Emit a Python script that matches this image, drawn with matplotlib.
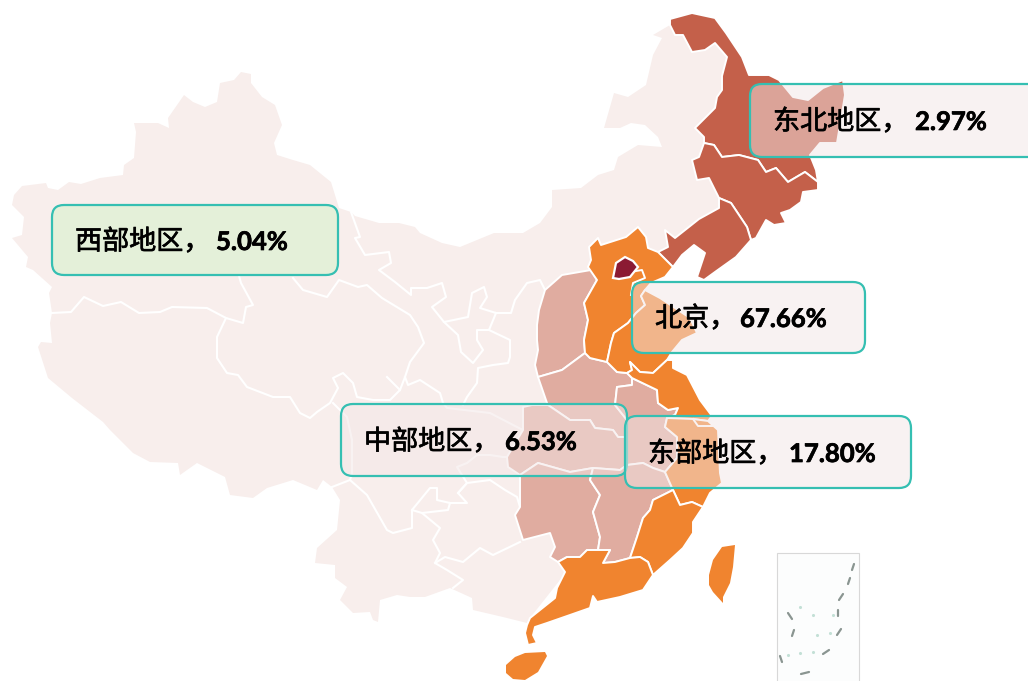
import matplotlib
matplotlib.use("Agg")
import matplotlib.pyplot as plt
import matplotlib.patheffects as pe
from matplotlib.patches import FancyBboxPatch, Polygon, Rectangle

china = [(12,205),(14,195),(22,186),(46,183),(48,188),(58,190),(69,182),(81,184),(100,178),(123,175),(124,165),(134,158),
         (136,132),(134,123),(158,123),(169,128),(168,118),(184,95),(193,102),(205,107),(217,102),(220,83),(234,80),(241,72),
         (251,74),(251,83),(262,97),(275,105),(282,125),(274,143),(277,155),(293,160),(310,165),(331,182),(339,208),(351,212),
         (355,216),(379,223),(399,223),(415,227),(420,233),(442,243),(460,247),(494,233),(523,233),(540,223),(552,207),(552,190),
         (581,188),(598,175),(614,170),(618,157),(638,145),(662,147),(658,137),(645,125),(631,123),(620,128),(604,128),(614,93),
         (628,97),(646,85),(653,55),(662,38),(653,35),(670,25),(683,35),(692,52),(705,50),(715,43),(727,57),(722,76),(722,90),
         (717,97),(715,108),(704,119),(695,128),(704,137),(704,143),(699,157),(692,160),(697,180),(709,178),(719,198),(719,208),
         (699,219),(675,238),(665,230),(668,247),(658,252),(610,300),(600,400),(600,540),(560,580),(530,618),(527,623),(503,617),
         (473,610),(472,598),(450,588),(425,597),(410,597),(397,595),(380,600),(378,622),
         (373,620),(370,612),(353,613),(340,600),(347,587),(335,578),(335,565),(315,563),(317,548),(337,530),(340,500),(332,487),
         (323,480),(317,490),(293,480),(267,488),(253,498),(230,495),(225,477),(197,463),(180,475),(178,463),(150,462),(133,453),
         (110,430),(103,422),(72,398),(48,378),(38,347),(41,342),(52,343),(50,323),(52,313),(49,293),(52,287),(33,270),(26,267),
         (28,257),(12,238),(22,235),(24,217)]

heilongjiang = [(670,25),(670,19),(692,13),(715,18),(726,33),(742,57),(749,75),(769,75),(779,80),(793,97),(808,100),(823,88),
                (843,80),(845,95),(837,143),(820,143),(810,155),(816,170),(818,182),(805,172),(788,182),(776,168),(766,172),
                (758,160),(739,155),(722,157),(714,145),(704,143),(704,137),(695,128),(704,119),(715,108),(717,97),(722,90),
                (722,76),(727,57),(715,43),(705,50),(692,52),(683,35),(675,35)]
jilin = [(704,143),(714,145),(722,157),(739,155),(758,160),(766,172),(776,168),(788,182),(805,172),(818,182),(818,190),(803,192),
         (801,202),(790,210),(781,213),(786,223),(774,225),(766,220),(756,238),(751,240),(747,227),(731,203),(719,198),(709,178),
         (697,180),(692,160),(699,157)]
liaoning = [(719,198),(731,203),(747,227),(751,240),(736,257),(715,272),(704,280),(697,277),(705,253),(694,245),(682,255),
            (673,267),(658,252),(668,247),(665,230),(675,238),(699,219),(719,208)]

shanxi = [(545,290),(562,275),(591,270),(597,280),(584,303),(588,320),(584,340),(585,353),(562,370),(538,377),(535,365),(538,350),
          (537,340),(537,325),(539,310)]
henan = [(538,377),(562,370),(585,353),(590,358),(607,362),(617,372),(627,373),(632,378),(632,385),(617,387),(615,405),(627,420),
         (627,437),(618,437),(613,430),(595,428),(590,420),(570,420),(548,405),(547,403)]
hubei = [(523,407),(532,405),(548,405),(570,420),(590,420),(595,428),(613,430),(618,437),(627,437),(627,465),(620,470),(593,468),
         (570,472),(538,463),(520,475),(508,467),(507,457),(523,430),(523,420)]
anhui = [(632,378),(657,390),(658,403),(668,410),(678,408),(675,415),(667,418),(665,427),(677,437),(677,458),(665,472),(653,468),
         (643,463),(627,465),(627,437),(627,420),(615,405),(617,387),(632,385)]
hunan = [(520,475),(538,463),(570,472),(593,468),(590,480),(600,495),(593,512),(600,537),(598,550),(587,550),(580,557),(567,557),
         (558,562),(550,557),(555,547),(550,533),(523,540),(515,515),(520,507)]
jiangxi = [(593,468),(620,470),(627,465),(643,463),(653,468),(665,472),(673,490),(653,500),(650,510),(643,518),(637,537),(630,558),
           (615,562),(603,563),(610,550),(598,550),(600,537),(593,512),(600,495),(590,480)]

hebei = [(591,260),(589,247),(598,238),(601,245),(626,237),(638,227),(646,237),(648,248),(658,252),(673,267),(665,277),(651,283),
         (645,290),(641,296),(645,305),(636,313),(628,323),(614,333),(611,343),(607,362),(590,358),(585,353),(584,340),(588,320),
         (584,303),(597,280),(588,267)]
shandong = [(636,313),(628,323),(614,333),(611,343),(607,362),(617,372),(627,373),(632,370),(630,362),(640,372),(653,373),(667,360),
            (672,352),(682,340),(697,333),(690,318),(660,298),(645,290),(641,296),(645,305)]
jiangsu = [(630,362),(640,372),(653,373),(667,360),(673,360),(673,368),(687,375),(700,400),(712,416),(708,421),(693,419),(667,418),
           (675,415),(678,408),(668,410),(658,403),(657,390),(632,378),(627,373),(632,370)]
zhejiang = [(667,418),(693,419),(708,421),(718,430),(720,473),(722,483),(710,493),(703,507),(692,502),(680,505),(673,490),(665,472),
            (677,458),(677,437),(665,427)]
fujian = [(630,558),(637,537),(643,518),(650,510),(653,500),(673,490),(680,505),(692,502),(703,507),(693,522),(693,533),(683,548),
          (670,560),(653,575),(648,562),(640,557)]
guangdong = [(558,562),(567,557),(580,557),(587,550),(598,550),(610,550),(603,563),(615,562),(630,558),(640,557),(648,562),(653,575),
             (643,590),(620,597),(597,602),(593,596),(590,608),(570,615),(547,623),(535,627),(533,635),(537,643),(528,645),(525,633),
             (527,625),(530,618),(555,598),(557,588),(565,572)]
hainan = [(506,665),(515,657),(525,653),(545,652),(547,656),(538,672),(525,680),(513,679),(506,673)]
taiwan = [(722,547),(735,545),(733,567),(730,583),(723,597),(723,603),(713,592),(709,585),(709,575),(713,560)]
beijing = [(613,278),(616,263),(625,257),(633,261),(638,267),(630,277),(619,279)]

rust_provinces = [heilongjiang, jilin, liaoning]
rose_provinces = [shanxi, henan, hubei, anhui, hunan, jiangxi]
orange_provinces = [hebei, shandong, jiangsu, zhejiang, fujian, guangdong]
orange_islands = [hainan, taiwan]

# white borders inside the pale west
borders = [
    [(52,313),(71,312),(84,297),(103,306),(121,302),(139,313),(160,312),(172,307),(207,308),(226,318),(243,323),(246,307),(253,305),(241,283),(239,276)],
    [(293,278),(303,290),(327,297),(339,280),(358,287),(367,285),(382,298),(410,315),(418,327),(424,343),(410,362),(405,377),(400,390)],
    [(226,318),(217,337),(217,358),(227,373),(238,375),(247,387),(273,397),(290,397),(300,413),(310,418),(317,412),(330,403),(338,388),(333,378),(343,373),(353,383),(357,397),(373,400),(390,400),(400,390),(387,377)],
    [(351,212),(360,237),(355,238),(365,255),(389,252),(391,263),(379,270),(395,282),(411,295),(411,288),(427,288),(442,283),(446,297),(432,307),(444,322),(468,317),(472,293),(484,287),(487,297),(480,308),(496,313),(511,313),(515,300),(527,283),(540,280),(545,290)],
    [(444,322),(458,335),(461,352),(473,363),(483,350),(477,340),(477,330),(489,330),(496,313)],
    [(489,330),(510,340),(510,357),(508,363),(493,365),(478,368),(477,383),(467,397),(463,405)],
    [(405,377),(408,385),(420,380),(440,393),(443,403),(447,408),(490,413),(517,427),(523,430)],
    [(333,403),(347,417),(352,440),(352,473),(350,480),(367,495),(387,530),(393,533),(412,528),(412,510),(430,488),(437,488),(437,500),(450,503),(467,503),(458,493),(467,483),(490,480),(505,490),(517,497),(520,507)],
    [(350,480),(332,487)],
    [(458,493),(467,483),(457,467),(467,463),(477,455),(490,455),(503,457),(507,457)],
    [(412,510),(422,513),(440,528),(433,540),(440,553),(435,563),(447,570),(463,580),(453,588)],
    [(422,513),(448,510),(450,503)],
    [(435,563),(445,557),(463,562),(480,548),(493,555),(520,542)],
]
# lines drawn over the coloured part
upper_borders = [
    [(630,272),(642,270),(645,278),(633,283),(631,295)],
    [(693,419),(698,426),(712,426)],
]

# south china sea inset, short grey dashes and faint dots
dash_x = [853, 849, 841, 838, 839, 826, 805, 781, 793, 790]
dash_y = [567, 581, 597, 613, 632, 652, 673, 659, 633, 616]
dash_dx = [1, 1, 2, 0, 2, 3, -4, -1, 1, -2]
dash_dy = [-3, -3, -3, -3, -3, -2, 1, -3, -3, -3]
dot_x = [800, 813, 833, 817, 830, 813, 800, 788]
dot_y = [607, 615, 615, 635, 633, 652, 653, 655]

# callouts
labels_cn = ["东北地区，", "北京，", "中部地区，", "东部地区，", "西部地区，"]
labels_pct = ["2.97%", "67.66%", "6.53%", "17.80%", "5.04%"]
label_x_cn = [773, 655, 364, 648, 75]
label_x_pct = [915, 740, 505, 789, 216]
label_y = [122, 319, 442, 454, 242]
box_x = [750, 632, 341, 625, 52]
box_y = [84, 282, 404, 416, 205]
box_w = [300, 233, 286, 286, 286]
box_h = [73, 71, 72, 72, 70]
box_fill = ["#f3e7e7", "#f3e7e7", "#f3e7e7", "#f3e7e7", "#e4f0d9"]
box_alpha = [0.5, 0.5, 0.5, 0.5, 1.0]

fig = plt.figure(figsize=(10.28, 6.81), dpi=100, facecolor="white")
ax = fig.add_axes([0, 0, 1, 1])
ax.set_xlim(0, 1028)
ax.set_ylim(681, 0)
ax.axis("off")

ax.add_patch(Polygon(china, closed=True, facecolor="#f8eeec", edgecolor="none", zorder=1))
for line in borders:
    ax.plot([p[0] for p in line], [p[1] for p in line], color="white", lw=1.5, solid_joinstyle="round", zorder=2)

for group, color in [(rust_provinces, "#c4604a"), (rose_provinces, "#e0aca0"), (orange_provinces, "#f0842f")]:
    for shape in group:
        ax.add_patch(Polygon(shape, closed=True, facecolor=color, edgecolor="white", lw=1.4, joinstyle="round", zorder=3))
for shape in orange_islands:
    ax.add_patch(Polygon(shape, closed=True, facecolor="#f0842f", edgecolor="none", zorder=3))
for line in upper_borders:
    ax.plot([p[0] for p in line], [p[1] for p in line], color="white", lw=1.4, zorder=4)
ax.add_patch(Polygon(beijing, closed=True, facecolor="#8b1a33", edgecolor="white", lw=1.6, zorder=4))

ax.add_patch(Rectangle((777, 553), 82, 130, facecolor="#fcfdfd", edgecolor="#d8d8d8", lw=0.8, zorder=2))
ax.scatter(dot_x, dot_y, s=5, color="#c3e0d6", linewidths=0, zorder=3)
for i in range(len(dash_x)):
    ax.plot([dash_x[i] - dash_dx[i], dash_x[i] + dash_dx[i]], [dash_y[i] - dash_dy[i], dash_y[i] + dash_dy[i]],
            color="#8a9591", lw=1.6, solid_capstyle="round", zorder=3)

for i in range(len(labels_cn)):
    box = FancyBboxPatch((box_x[i], box_y[i]), box_w[i], box_h[i], boxstyle="round,pad=0,rounding_size=12",
                         facecolor=box_fill[i], edgecolor="none", alpha=box_alpha[i], zorder=5 + i)
    ax.add_patch(box)
    edge = FancyBboxPatch((box_x[i], box_y[i]), box_w[i], box_h[i], boxstyle="round,pad=0,rounding_size=12",
                          facecolor="none", edgecolor="#35bfb2", lw=1.6, zorder=5 + i)
    ax.add_patch(edge)
    t = ax.text(label_x_cn[i], label_y[i], labels_cn[i], family="Noto Sans CJK SC", fontsize=19.5, color="black",
                va="center", ha="left", zorder=20)
    t.set_path_effects([pe.withStroke(linewidth=0.5, foreground="black")])
    t = ax.text(label_x_pct[i], label_y[i], labels_pct[i], family="Lato", weight="bold", fontsize=18.5, color="black",
                va="center", ha="left", zorder=20)
    t.set_path_effects([pe.withStroke(linewidth=0.5, foreground="black")])

fig.savefig("out.png", dpi=100)
